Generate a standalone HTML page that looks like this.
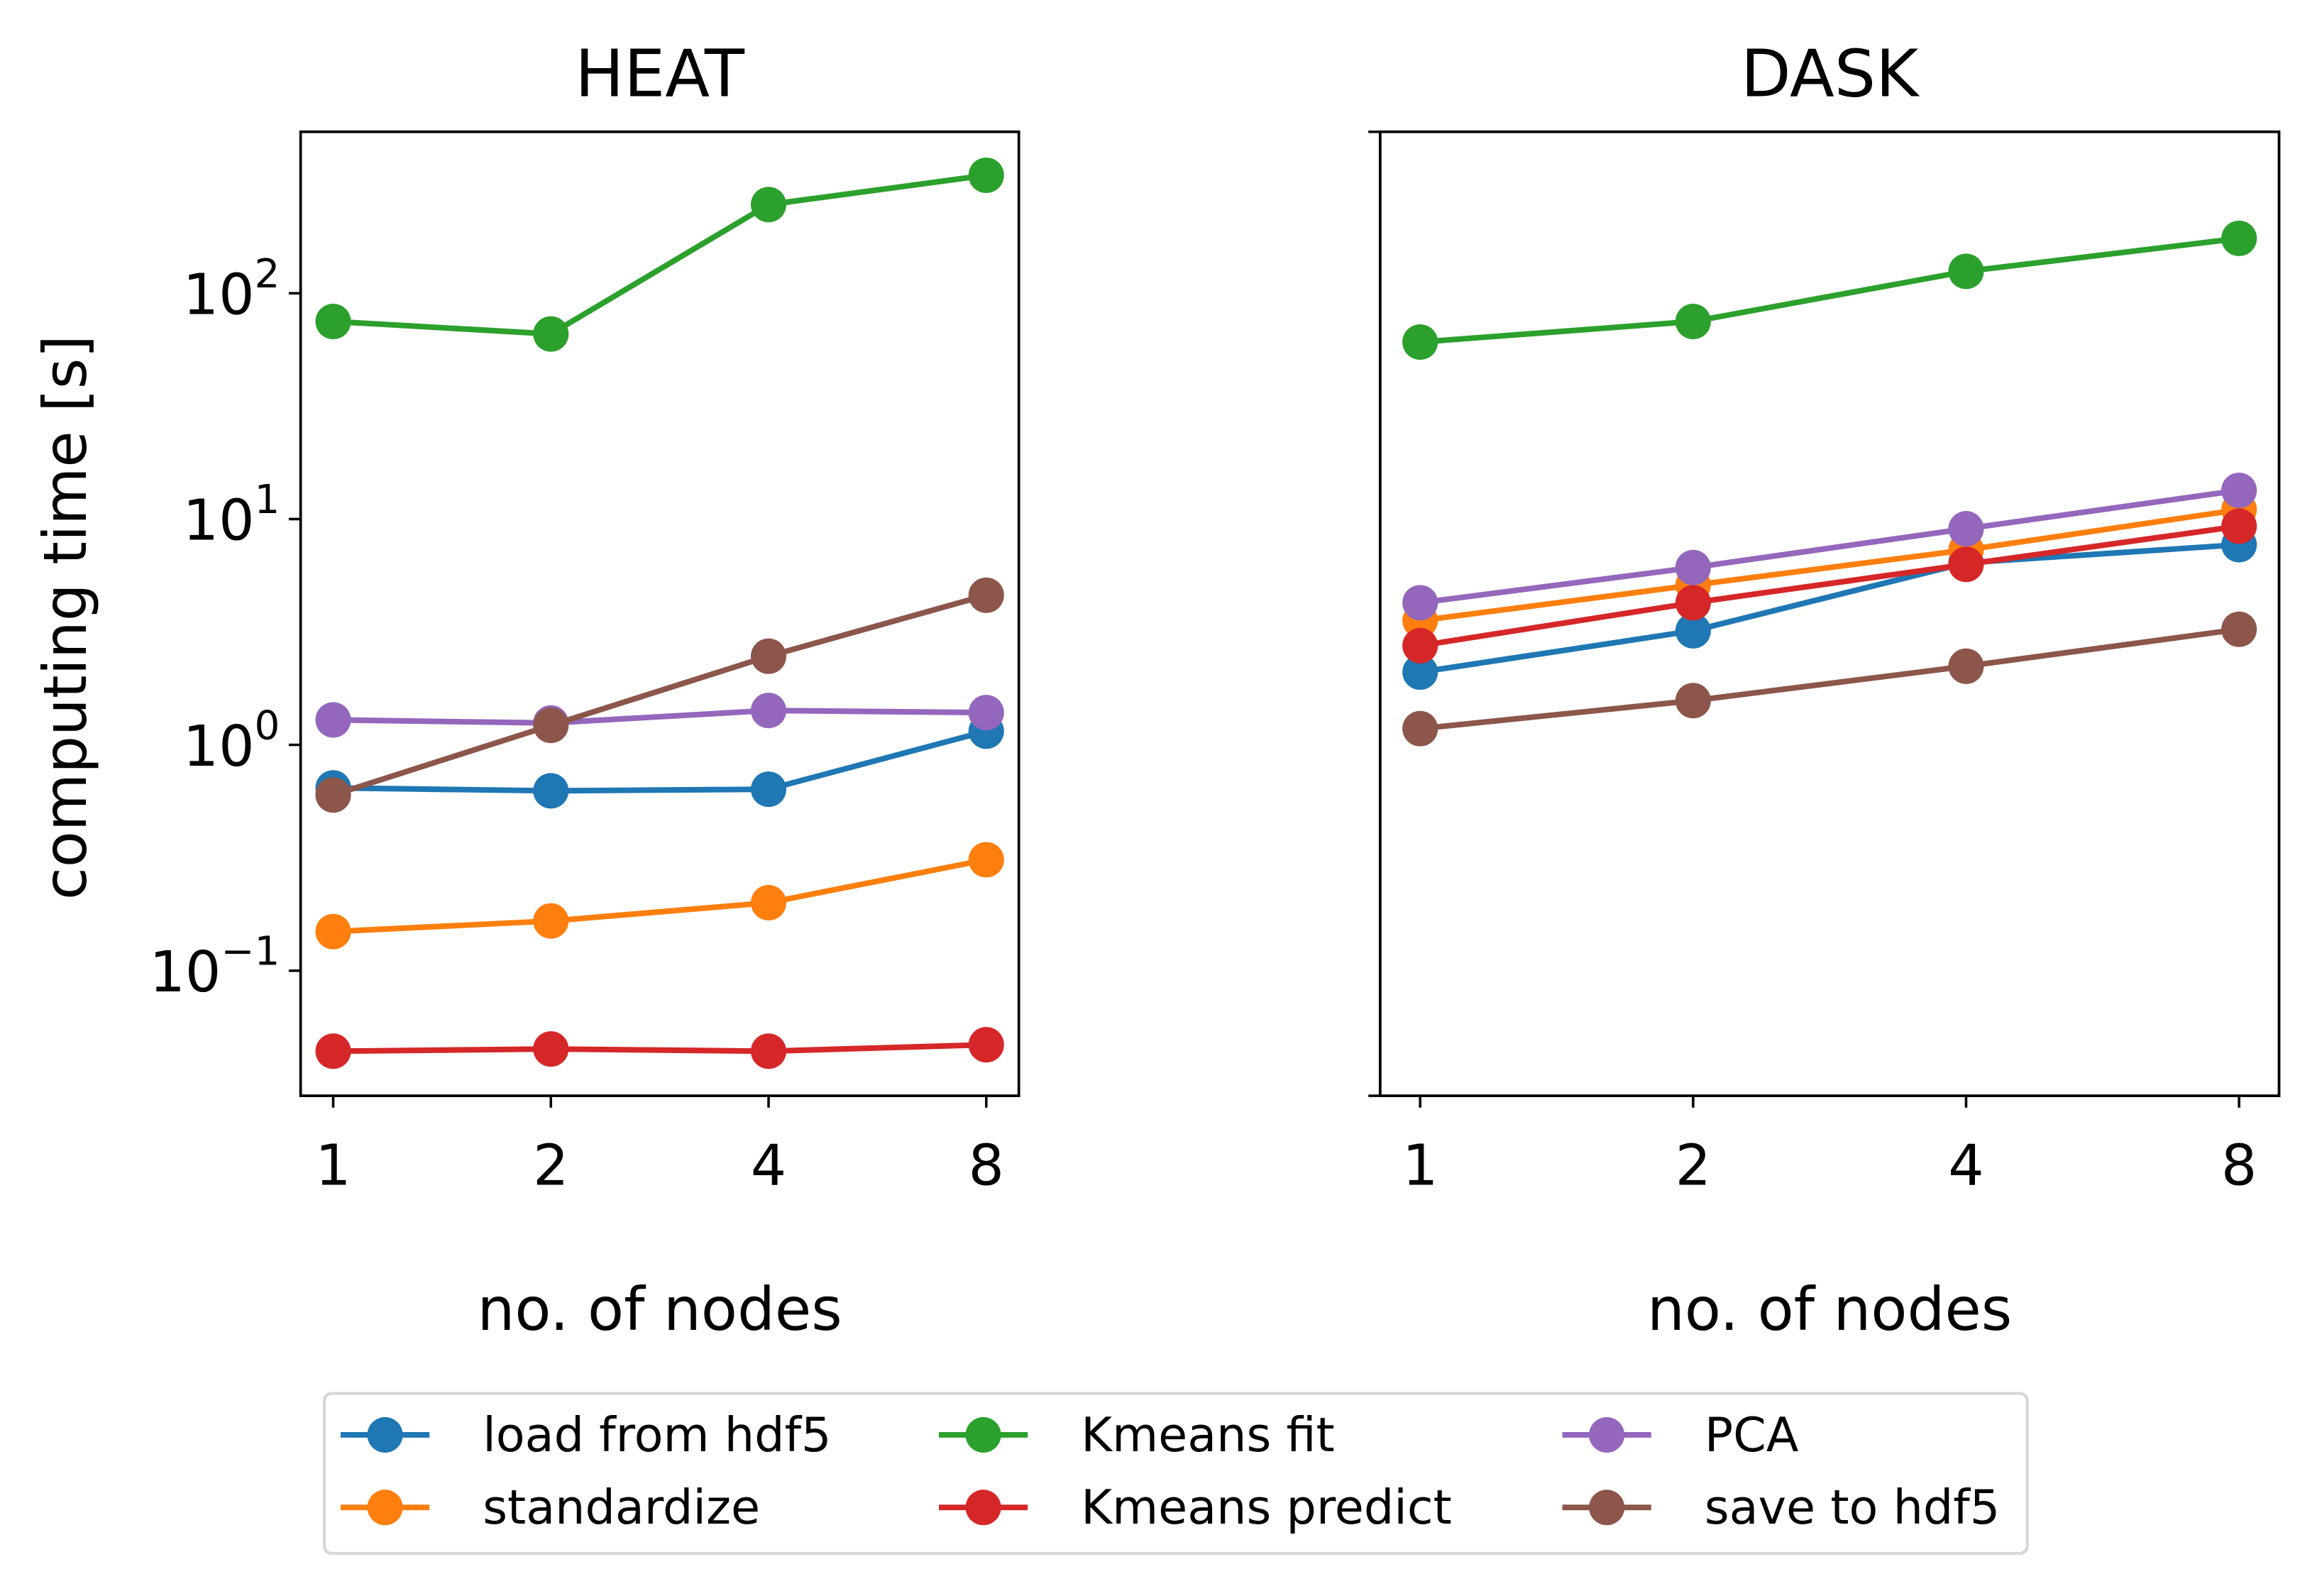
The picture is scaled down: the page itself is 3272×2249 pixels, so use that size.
<!DOCTYPE html>
<html><head><meta charset="utf-8"><style>
html,body{margin:0;padding:0;background:#fff;}
svg{display:block;}
text{font-family:"DejaVu Sans","Liberation Sans",sans-serif;fill:#000;}
</style></head><body>
<svg id="fig" width="3272" height="2249" viewBox="0 0 1568 1077.8" preserveAspectRatio="none" xmlns="http://www.w3.org/2000/svg"></svg>
<script>
const nodes = ["1","2","4","8"];
const seriesNames = ["load from hdf5","standardize","Kmeans fit","Kmeans predict","PCA","save to hdf5"];
const colors = ["#1f77b4","#ff7f0e","#2ca02c","#d62728","#9467bd","#8c564b"];
const heatLoad = [0.645,0.626,0.636,1.15];
const heatStd = [0.149,0.166,0.20,0.31];
const heatFit = [75,66,247,333];
const heatPred = [0.044,0.045,0.044,0.047];
const heatPca = [1.29,1.25,1.42,1.39];
const heatSave = [0.60,1.22,2.47,4.6];
const daskLoad = [2.1,3.2,6.4,7.7];
const daskStd = [3.55,5.1,7.3,11.0];
const daskFit = [60.8,75,125,175];
const daskPred = [2.75,4.26,6.3,9.3];
const daskPca = [4.26,6.1,9.06,13.4];
const daskSave = [1.18,1.57,2.23,3.25];
const yTickExps = [-1,0,1,2];

const NS="http://www.w3.org/2000/svg";
const svg=document.getElementById('fig');
function mk(tag,attrs,parent){const e=document.createElementNS(NS,tag);for(const k in attrs)e.setAttribute(k,attrs[k]);(parent||svg).appendChild(e);return e;}

const axTop=89, axBot=740;
const logTop=2.715, logBot=-1.554;
function yScale(v){const l=Math.log10(v);return axTop+(logTop-l)/(logTop-logBot)*(axBot-axTop);}

function panel(name,x0,x1,xPad,title,data,showY){
  const g=mk('g',{});
  
  
  const step=(x1-x0-2*xPad)/3;
  const xs=i=>x0+xPad+i*step;
  if(showY){
    yTickExps.forEach(e=>{
      const y=yScale(Math.pow(10,e));
      const t=mk('line',{x1:x0-8,x2:x0,y1:y,y2:y,stroke:'#000','stroke-width':1.7},g);
      
      
      const tx=mk('text',{x:x0-14,y:y+14,'font-size':38,'text-anchor':'end'},g);
      
      
      tx.textContent='10';
      const sup=mk('tspan',{dy:-18,'font-size':27},tx);
      sup.textContent=(e<0?'\u2212':'')+Math.abs(e);
    });
  } else {
    [axTop,axBot].forEach(y=>{
      const t=mk('line',{x1:x0-8,x2:x0,y1:y,y2:y,stroke:'#000','stroke-width':1.7},g);
      
      
    });
  }
  nodes.forEach((n,i)=>{
    const x=xs(i);
    const t=mk('line',{x1:x,x2:x,y1:axBot,y2:axBot+8,stroke:'#000','stroke-width':1.7},g);
    
    
    const tx=mk('text',{x:x,y:axBot+60,'font-size':38,'text-anchor':'middle'},g);
    
    
    tx.textContent=n;
  });
  data.forEach((arr,si)=>{
    const pts=arr.map((v,i)=>xs(i)+','+yScale(v)).join(' ');
    const pl=mk('polyline',{points:pts,fill:'none',stroke:colors[si],'stroke-width':3.8},g);
    
    
    arr.forEach((v,i)=>{
      const c=mk('circle',{cx:xs(i),cy:yScale(v),r:12,fill:colors[si]},g);
      
      
    });
  });
  const fr=mk('rect',{x:x0,y:axTop,width:x1-x0,height:axBot-axTop,fill:'none',stroke:'#000','stroke-width':1.8},g);
  
  
  const tt=mk('text',{x:(x0+x1)/2,y:65,'font-size':44,'text-anchor':'middle'},g);
  
  
  tt.textContent=title;
  const xl=mk('text',{x:(x0+x1)/2,y:898,'font-size':40,'text-anchor':'middle'},g);
  
  
  xl.textContent='no. of nodes';
}
panel('heat',203,688,22,'HEAT',[heatLoad,heatStd,heatFit,heatPred,heatPca,heatSave],true);
panel('dask',932,1539,27,'DASK',[daskLoad,daskStd,daskFit,daskPred,daskPca,daskSave],false);

const yl=mk('text',{x:0,y:0,'font-size':40,'text-anchor':'middle',transform:'translate(58,417) rotate(-90)'});


yl.textContent='computing time [s]';

const lg=mk('g',{});


const lb=mk('rect',{x:219,y:941,width:1150,height:108,rx:5,fill:'#fff',stroke:'#d6d6d6','stroke-width':2},lg);


const colX=[230,634,1055], rowY=[969,1018];
seriesNames.forEach((nm,i)=>{
  const cx=colX[Math.floor(i/2)], cy=rowY[i%2];
  const e=mk('g',{},lg);
  
  
  mk('line',{x1:cx,x2:cx+60,y1:cy,y2:cy,stroke:colors[i],'stroke-width':3.8},e);
  mk('circle',{cx:cx+30,cy:cy,r:12,fill:colors[i]},e);
  const t=mk('text',{x:cx+96,y:cy+11,'font-size':32},e);
  t.textContent=nm;
});
</script>
</body></html>
